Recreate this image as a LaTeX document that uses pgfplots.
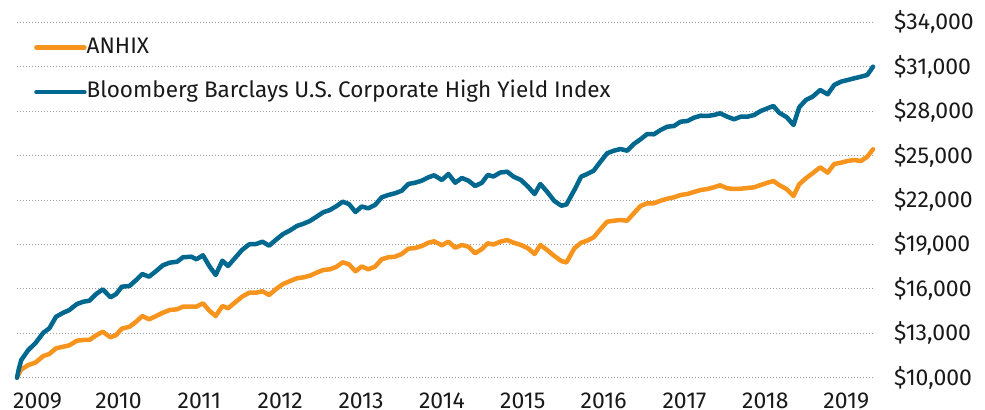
\documentclass[border=0pt]{standalone}
\usepackage{fontspec}
\setmainfont{Fira Sans}
\usepackage{pgfplots}
\usepackage{pgfplotstable}
\pgfplotsset{compat=1.18}
\definecolor{anhix}{HTML}{F7941E}
\definecolor{bbg}{HTML}{00688F}
\definecolor{gridgray}{HTML}{9A9A9A}

\pgfplotstableread{
year anhix bbg
2008.745 10000 10000
2008.770 10300 10650
2008.798 10554 11195
2008.885 10858 11871
2008.971 11013 12323
2009.071 11465 13039
2009.145 11600 13336
2009.228 11985 14119
2009.318 12093 14389
2009.393 12188 14572
2009.486 12499 14977
2009.566 12546 15132
2009.641 12546 15200
2009.724 12863 15652
2009.806 13106 15970
2009.901 12728 15429
2009.972 12884 15652
2010.041 13309 16145
2010.136 13444 16193
2010.219 13782 16598
2010.294 14167 17003
2010.378 13944 16821
2010.467 14167 17206
2010.549 14389 17590
2010.632 14572 17766
2010.725 14619 17833
2010.797 14795 18131
2010.901 14795 18171
2010.963 14795 17996
2011.045 15024 18266
2011.128 14504 17496
2011.202 14167 16935
2011.285 14842 17901
2011.355 14687 17543
2011.438 15065 18063
2011.528 15470 18624
2011.617 15740 19009
2011.701 15740 19029
2011.781 15835 19184
2011.863 15585 18914
2011.954 16010 19346
2012.036 16328 19704
2012.115 16510 19927
2012.206 16712 20244
2012.289 16780 20400
2012.367 16888 20582
2012.450 17091 20872
2012.532 17273 21170
2012.615 17320 21325
2012.698 17496 21595
2012.772 17793 21885
2012.850 17658 21730
2012.931 17185 21190
2013.007 17509 21561
2013.089 17320 21440
2013.172 17496 21662
2013.255 17996 22182
2013.337 18131 22338
2013.420 18171 22453
2013.503 18353 22628
2013.585 18711 23081
2013.668 18758 23168
2013.751 18894 23303
2013.833 19117 23533
2013.903 19211 23668
2013.999 18941 23351
2014.081 19184 23755
2014.164 18779 23168
2014.247 18961 23486
2014.328 18846 23303
2014.411 18401 22945
2014.495 18691 23168
2014.566 19076 23688
2014.638 18995 23587
2014.721 19184 23857
2014.808 19299 23911
2014.886 19117 23574
2014.978 18961 23351
2015.065 18738 22898
2015.146 18353 22405
2015.217 18961 23081
2015.300 18624 22561
2015.390 18218 21932
2015.477 17881 21615
2015.539 17779 21696
2015.638 18738 22675
2015.721 19117 23574
2015.796 19252 23755
2015.877 19481 23979
2015.960 20022 24586
2016.043 20535 25154
2016.125 20602 25329
2016.208 20649 25444
2016.291 20602 25329
2016.373 21102 25782
2016.456 21595 26099
2016.539 21777 26457
2016.621 21777 26437
2016.704 21953 26727
2016.787 22088 26950
2016.869 22182 26997
2016.952 22338 27288
2017.035 22405 27335
2017.117 22541 27558
2017.200 22676 27693
2017.283 22743 27673
2017.364 22858 27740
2017.439 22993 27855
2017.530 22790 27625
2017.612 22743 27450
2017.695 22763 27625
2017.778 22810 27625
2017.860 22858 27740
2017.943 23013 28010
2018.026 23168 28193
2018.100 23283 28348
2018.170 23013 27895
2018.265 22723 27585
2018.348 22270 27065
2018.418 23060 28260
2018.501 23466 28753
2018.584 23803 28976
2018.678 24208 29429
2018.770 23844 29138
2018.851 24431 29766
2018.934 24519 29989
2019.017 24634 30104
2019.099 24701 30218
2019.182 24634 30327
2019.260 24924 30441
2019.331 25424 31002
}\datatable

\begin{document}
\begin{tikzpicture}
\begin{axis}[
  scale only axis,
  width=856bp, height=355.4bp,
  xmin=2008.745, xmax=2019.331,
  ymin=10000, ymax=34000,
  clip=false,
  scaled ticks=false,
  axis line style={draw=none},
  major tick length=0pt,
  xtick={2009,2010,2011,2012,2013,2014,2015,2016,2017,2018,2019},
  xticklabels={2009,2010,2011,2012,2013,2014,2015,2016,2017,2018,2019},
  ytick={10000,13000,16000,19000,22000,25000,28000,31000,34000},
  yticklabels={{\$10,000},{\$13,000},{\$16,000},{\$19,000},{\$22,000},{\$25,000},{\$28,000},{\$31,000},{\$34,000}},
  yticklabel pos=right,
  tick label style={font=\fontsize{23bp}{26bp}\selectfont, text=black!90},
  xticklabel style={anchor=north, inner sep=0pt, text depth=0pt, yshift=-14.5bp},
  yticklabel style={anchor=west, inner sep=0pt, xshift=21bp},
  ymajorgrids,
  grid style={gridgray, line width=1bp, dash pattern=on 1bp off 2bp},
  legend cell align=left,
  legend image code/.code={\draw[#1, line cap=round] (0bp,0bp) -- (48bp,0bp);},
  legend style={at={(rel axis cs:0,1)}, anchor=north west, xshift=17bp, yshift=-14.7bp,
    draw=none, fill=none, inner sep=0pt, row sep=23.5bp,
    font=\fontsize{22.5bp}{26bp}\selectfont, text=black!90,
    nodes={inner sep=0pt, text height=16bp, text depth=5bp},
    /tikz/every even column/.append style={column sep=8bp}},
]
\addplot[anhix, line width=4.5bp, line join=round, line cap=round] table[x=year, y=anhix] {\datatable};
\addlegendentry{ANHIX}
\addplot[bbg, line width=4.5bp, line join=round, line cap=round] table[x=year, y=bbg] {\datatable};
\addlegendentry{Bloomberg Barclays U.S. Corporate High Yield Index}
\end{axis}
\pgfresetboundingbox
\path[use as bounding box] (-17bp,-32.3bp) rectangle (968bp,377.7bp);
\end{tikzpicture}
\end{document}
